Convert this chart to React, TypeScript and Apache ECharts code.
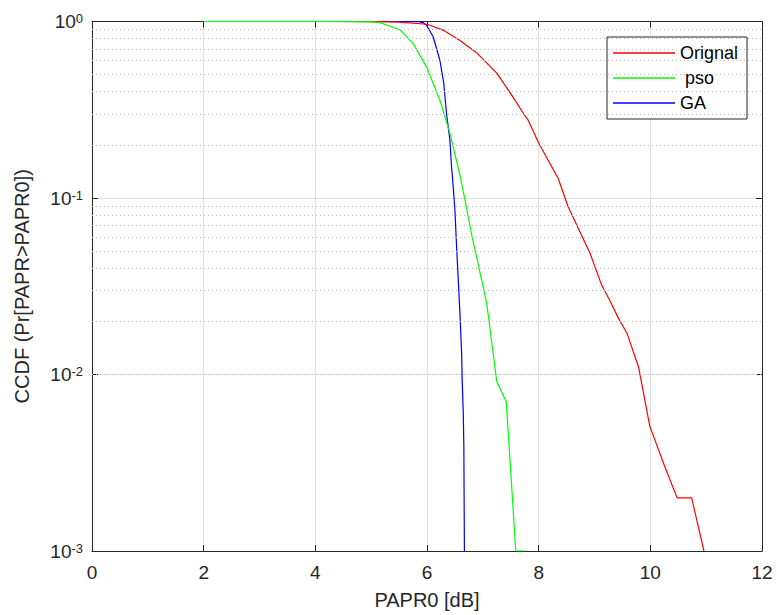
import { useEffect, useRef } from "react";
import * as echarts from "echarts";

const seriesNames = ["Orignal", " pso", "GA"];
const seriesColors = ["#ff0000", "#00ff00", "#0000ff"];

const origX = [2, 3, 4, 5, 5.5, 6.0, 6.3, 6.59, 6.9, 7.25, 7.5, 7.73, 7.81, 8.0, 8.35, 8.53, 8.92, 9.13, 9.27, 9.43, 9.58, 9.79, 9.99, 10.26, 10.48, 10.74, 10.96];
const origY = [1, 1, 1, 0.999, 0.993, 0.965, 0.89, 0.78, 0.66, 0.51, 0.39, 0.3, 0.277, 0.205, 0.129, 0.089, 0.0486, 0.032, 0.0264, 0.0208, 0.0172, 0.011, 0.0051, 0.003, 0.002, 0.002, 0.001];

const psoX = [2, 3, 4, 4.5, 5.0, 5.16, 5.52, 5.75, 5.99, 6.23, 6.41, 6.59, 6.68, 6.8, 7.07, 7.25, 7.42, 7.59, 7.76];
const psoY = [1, 1, 1, 1, 0.996, 0.985, 0.895, 0.752, 0.555, 0.359, 0.233, 0.135, 0.0975, 0.062, 0.0253, 0.0091, 0.007, 0.001, 0.001];

const gaX = [2, 3, 4, 5, 5.5, 5.85, 5.93, 5.99, 6.11, 6.23, 6.3, 6.35, 6.41, 6.44, 6.47, 6.5, 6.53, 6.56, 6.59, 6.62, 6.63, 6.65, 6.66, 6.67];
const gaY = [1, 1, 1, 1, 1, 0.998, 0.985, 0.955, 0.82, 0.605, 0.447, 0.3, 0.213, 0.15, 0.115, 0.0855, 0.053, 0.0343, 0.0222, 0.0132, 0.0093, 0.006, 0.0039, 0.001];

const xMin = 0;
const xMax = 12;
const xInterval = 2;
const yMin = 0.001;
const yMax = 1;
const minorGridValues = [
  0.002, 0.003, 0.004, 0.005, 0.006, 0.007, 0.008, 0.009,
  0.02, 0.03, 0.04, 0.05, 0.06, 0.07, 0.08, 0.09,
  0.2, 0.3, 0.4, 0.5, 0.6, 0.7, 0.8, 0.9,
];

const FONT = "'Liberation Sans', Arial, Helvetica, sans-serif";
const AXIS_COLOR = "#262626";

function pairs(xs: number[], ys: number[]) {
  return xs.map((x, i) => [x, ys[i]]);
}

export default function App() {
  const ref = useRef<HTMLDivElement>(null);
  useEffect(() => {
    const chart = echarts.init(ref.current!, null, { renderer: "svg" });
    const lineSeries = (idx: number, xs: number[], ys: number[]) => ({
      name: seriesNames[idx],
      type: "line",
      data: pairs(xs, ys),
      showSymbol: false,
      symbol: "none",
      lineStyle: { color: seriesColors[idx], width: 1.2 },
      itemStyle: { color: seriesColors[idx] },
      z: 3,
    });
    chart.setOption({
      animation: false,
      backgroundColor: "#ffffff",
      textStyle: { fontFamily: FONT },
      grid: { left: 92, right: 15, top: 21.5, bottom: 64, containLabel: false },
      legend: {
        data: seriesNames,
        orient: "vertical",
        left: 607,
        top: 37,
        icon: "rect",
        itemWidth: 62,
        itemHeight: 1.5,
        itemGap: 7,
        padding: [7, 9, 7, 6],
        backgroundColor: "#ffffff",
        borderColor: AXIS_COLOR,
        borderWidth: 1,
        textStyle: { fontSize: 18, color: "#000", fontFamily: FONT },
      },
      xAxis: [
        {
          type: "value",
          min: xMin,
          max: xMax,
          interval: xInterval,
          name: "PAPR0 [dB]",
          nameLocation: "middle",
          nameGap: 39,
          nameTextStyle: { fontSize: 20, color: AXIS_COLOR, fontFamily: FONT },
          axisLine: { show: true, onZero: false, lineStyle: { color: AXIS_COLOR, width: 1 } },
          axisTick: { show: true, inside: true, length: 6, lineStyle: { color: AXIS_COLOR } },
          axisLabel: { fontSize: 19, color: AXIS_COLOR, margin: 12, fontFamily: FONT },
          splitLine: { show: true, lineStyle: { color: "#dfdfdf", width: 1 } },
        },
        {
          type: "value",
          position: "top",
          min: xMin,
          max: xMax,
          interval: xInterval,
          axisLine: { show: true, onZero: false, lineStyle: { color: AXIS_COLOR, width: 1 } },
          axisTick: { show: true, inside: true, length: 6, lineStyle: { color: AXIS_COLOR } },
          axisLabel: { show: false },
          splitLine: { show: false },
        },
      ],
      yAxis: [
        {
          type: "log",
          logBase: 10,
          min: yMin,
          max: yMax,
          splitNumber: 3,
          name: "CCDF (Pr[PAPR>PAPR0])",
          nameLocation: "middle",
          nameGap: 60,
          nameTextStyle: { fontSize: 20, color: AXIS_COLOR, fontFamily: FONT },
          axisLine: { show: true, onZero: false, lineStyle: { color: AXIS_COLOR, width: 1 } },
          axisTick: { show: true, inside: true, length: 6, lineStyle: { color: AXIS_COLOR } },
          axisLabel: {
            margin: 9,
            color: AXIS_COLOR,
            formatter: (v: number) => `{b|10}{s|${Math.round(Math.log10(v))}}`,
            rich: {
              b: { fontSize: 19, lineHeight: 19, verticalAlign: "bottom", color: AXIS_COLOR, fontFamily: FONT },
              s: { fontSize: 13, lineHeight: 13, verticalAlign: "top", padding: [0, 0, 12, 0], color: AXIS_COLOR, fontFamily: FONT },
            },
          },
          splitLine: { show: true, lineStyle: { color: "#dfdfdf", width: 1 } },
        },
        {
          type: "log",
          logBase: 10,
          min: yMin,
          max: yMax,
          splitNumber: 3,
          position: "right",
          axisLine: { show: true, onZero: false, lineStyle: { color: AXIS_COLOR, width: 1 } },
          axisTick: { show: true, inside: true, length: 6, lineStyle: { color: AXIS_COLOR } },
          axisLabel: { show: false },
          splitLine: { show: false },
        },
      ],
      series: [
        {
          name: "minorGrid",
          type: "line",
          data: [],
          z: 1,
          silent: true,
          markLine: {
            silent: true,
            symbol: ["none", "none"],
            label: { show: false },
            lineStyle: { color: "#bdbdbd", width: 1, type: [1, 3] },
            data: minorGridValues.map((v) => ({ yAxis: v })),
          },
        },
        lineSeries(2, gaX, gaY),
        lineSeries(0, origX, origY),
        lineSeries(1, psoX, psoY),
      ],
    });
    return () => chart.dispose();
  }, []);
  return (
    <div
      ref={ref}
      style={{ position: "fixed", left: 0, top: 0, width: 777, height: 615, background: "#fff" }}
    />
  );
}
